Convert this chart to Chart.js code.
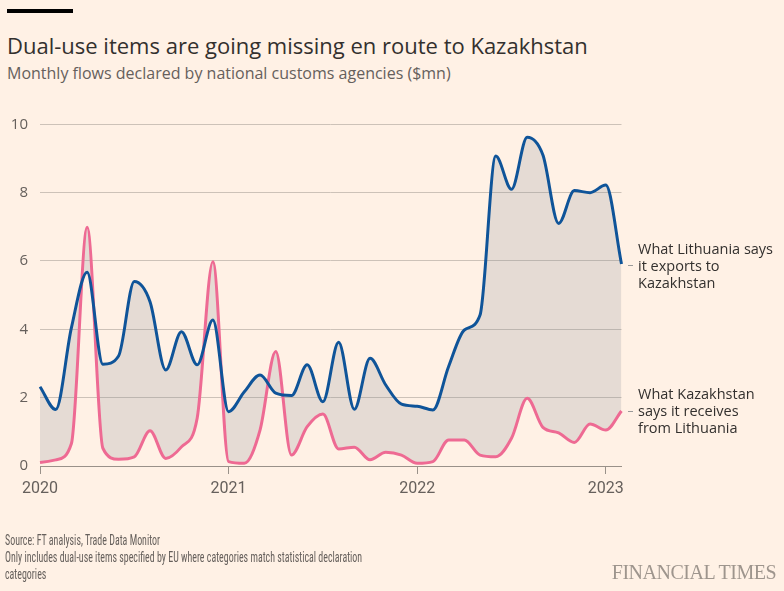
<!DOCTYPE html>
<html>
<head>
<meta charset="utf-8">
<script src="https://cdn.jsdelivr.net/npm/chart.js@4.4.1/dist/chart.umd.min.js"></script>
<style>
  html, body { margin:0; padding:0; background:#fff1e5; }
  body { width:784px; height:591px; position:relative; overflow:hidden; font-family:"Open Sans","Noto Sans",sans-serif; color:#33302e; }
  #bar { position:absolute; left:7px; top:9px; width:66px; height:4px; background:#000; }
  #title { position:absolute; left:7px; top:31px; font-size:22px; line-height:28px; color:#33302e; white-space:nowrap; }
  #subtitle { position:absolute; left:7px; top:62px; font-size:16px; line-height:22px; color:#66605c; white-space:nowrap; }
  canvas { position:absolute; left:0; top:0; }
  .lbl { position:absolute; left:638px; font-size:14.5px; line-height:17px; color:#33302e; white-space:nowrap; }
  .dash { position:absolute; left:628px; width:5px; height:1px; background:#999; }
  #foot { position:absolute; left:5px; top:532px; font-family:"Liberation Sans Narrow","Roboto Condensed","Roboto",sans-serif; font-size:14.5px; line-height:17px; color:#66605c; white-space:nowrap; transform:scaleX(0.685); transform-origin:0 0; }
  #ft { position:absolute; right:8px; top:561px; font-family:"Liberation Serif","DejaVu Serif",serif; font-size:20px; line-height:22px; color:#9e958d; letter-spacing:-0.5px; }
</style>
</head>
<body>
<div id="bar"></div>
<div id="title">Dual-use items are going missing en route to Kazakhstan</div>
<div id="subtitle">Monthly flows declared by national customs agencies ($mn)</div>
<canvas id="c" width="784" height="591"></canvas>
<div class="dash" style="top:265px"></div>
<div class="lbl" style="top:240px">What Lithuania says<br>it exports to<br>Kazakhstan</div>
<div class="dash" style="top:411px"></div>
<div class="lbl" style="top:385px">What Kazakhstan<br>says it receives<br>from Lithuania</div>
<div id="foot">Source: FT analysis, Trade Data Monitor<br>Only includes dual-use items specified by EU where categories match statistical declaration<br>categories</div>
<div id="ft">FINANCIAL TIMES</div>
<script>
// Monthly, Jan 2020 – Feb 2023
const months = [
  "2020-01","2020-02","2020-03","2020-04","2020-05","2020-06","2020-07","2020-08","2020-09","2020-10","2020-11","2020-12",
  "2021-01","2021-02","2021-03","2021-04","2021-05","2021-06","2021-07","2021-08","2021-09","2021-10","2021-11","2021-12",
  "2022-01","2022-02","2022-03","2022-04","2022-05","2022-06","2022-07","2022-08","2022-09","2022-10","2022-11","2022-12",
  "2023-01","2023-02"
];
const lithuaniaExports = [
  2.32, 1.65, 4.05, 5.67, 2.98, 3.22, 5.40, 4.81, 2.81, 3.93, 2.96, 4.27,
  1.59, 2.17, 2.66, 2.13, 2.06, 2.96, 1.88, 3.62, 1.66, 3.15, 2.37, 1.81,
  1.75, 1.64, 2.91, 3.98, 4.42, 9.07, 8.10, 9.62, 9.10, 7.10, 8.06, 8.00,
  8.22, 5.91
];
const kazakhstanImports = [
  0.10, 0.18, 0.66, 6.99, 0.52, 0.20, 0.27, 1.03, 0.22, 0.56, 1.40, 5.98,
  0.13, 0.08, 1.05, 3.35, 0.32, 1.15, 1.52, 0.50, 0.55, 0.18, 0.40, 0.32,
  0.08, 0.13, 0.76, 0.76, 0.32, 0.27, 0.81, 1.98, 1.13, 0.97, 0.69, 1.23,
  1.05, 1.61
];
const yTicks = [0, 2, 4, 6, 8, 10];

const tickFont = { family: "'Open Sans','Noto Sans',sans-serif", size: 15 };
const xFont = { family: "'Liberation Sans Narrow','Roboto','Open Sans',sans-serif", size: 16 };

new Chart(document.getElementById('c'), {
  type: 'line',
  data: {
    labels: months,
    datasets: [
      {
        label: 'What Lithuania says it exports to Kazakhstan',
        data: lithuaniaExports,
        borderColor: '#0f5499',
        borderWidth: 3,
        pointRadius: 0,
        cubicInterpolationMode: 'monotone',
        fill: { target: '+1', above: 'rgba(125,136,144,0.2)', below: 'rgba(125,136,144,0.2)' },
        backgroundColor: 'rgba(125,136,144,0.2)'
      },
      {
        label: 'What Kazakhstan says it receives from Lithuania',
        data: kazakhstanImports,
        borderColor: '#ee6a93',
        borderWidth: 3,
        pointRadius: 0,
        cubicInterpolationMode: 'monotone',
        fill: false
      }
    ]
  },
  options: {
    responsive: false,
    animation: false,
    layout: { padding: { left: 0, right: 162.5, top: 124.3, bottom: 0 } },
    plugins: {
      legend: { display: false },
      tooltip: { enabled: false },
      filler: { drawTime: 'beforeDatasetsDraw' }
    },
    scales: {
      x: {
        type: 'category',
        offset: false,
        afterFit: (s) => { s.height = 125; },
        border: { display: true, color: '#999189', width: 1 },
        grid: {
          drawOnChartArea: false,
          drawTicks: true,
          tickLength: 8,
          color: (ctx) => (ctx.tick && months[ctx.index] && months[ctx.index].endsWith('-01')) ? '#999189' : 'rgba(0,0,0,0)'
        },
        ticks: {
          autoSkip: false,
          maxRotation: 0,
          padding: 5,
          color: '#66605c',
          font: xFont,
          callback: (v, i) => months[i].endsWith('-01') ? months[i].slice(0, 4) : ''
        }
      },
      y: {
        min: 0,
        max: 10,
        afterFit: (s) => { s.width = 40; },
        afterBuildTicks: (s) => { s.ticks = yTicks.map(v => ({ value: v })); },
        border: { display: false },
        grid: { color: '#cdc2b8', lineWidth: 1, drawTicks: false },
        ticks: { padding: 12, color: '#66605c', font: tickFont }
      }
    }
  }
});
</script>
</body>
</html>
